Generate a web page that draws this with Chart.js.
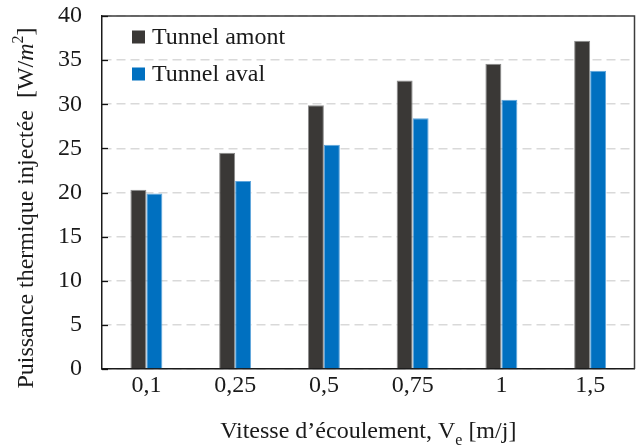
<!DOCTYPE html>
<html>
<head>
<meta charset="utf-8">
<script src="https://cdn.jsdelivr.net/npm/chart.js@4/dist/chart.umd.min.js"></script>
<style>
  html, body { margin: 0; padding: 0; background: #ffffff; }
  #wrap { width: 638px; height: 445px; }
</style>
</head>
<body>
<div id="wrap"><canvas id="c" width="638" height="445"></canvas></div>
<script>
// Flow velocity categories (m/day)
const categories = ['0,1', '0,25', '0,5', '0,75', '1', '1,5'];
// Injected thermal power (W/m²)
const tunnelAmont = [20.3, 24.5, 29.9, 32.7, 34.6, 37.2];
const tunnelAval = [19.9, 21.3, 25.4, 28.4, 30.5, 33.8];
const seriesNames = ['Tunnel amont', 'Tunnel aval'];
const yTicks = [0, 5, 10, 15, 20, 25, 30, 35, 40];

const SERIF = '"Liberation Serif", "Times New Roman", serif';
const TEXT = '#1a1a1a';
const FONT_SIZE = 24;

// Draws a run of text pieces; each piece may be italic, raised or lowered.
function drawRich(ctx, parts, x, y, size, align) {
  const fontFor = p => (p.italic ? 'italic ' : '') + Math.round(size * (p.scale || 1)) + 'px ' + SERIF;
  let total = 0;
  parts.forEach(p => { ctx.font = fontFor(p); total += ctx.measureText(p.t).width; });
  let cx = align === 'center' ? x - total / 2 : x;
  ctx.textBaseline = 'alphabetic';
  ctx.textAlign = 'left';
  parts.forEach(p => {
    ctx.font = fontFor(p);
    ctx.fillText(p.t, cx, y + (p.dy || 0) * size);
    cx += ctx.measureText(p.t).width;
  });
}

const decorations = {
  id: 'decorations',
  afterDraw(chart) {
    const { ctx, chartArea: a } = chart;
    const yScale = chart.scales.y;
    ctx.save();

    // frame on top and right
    ctx.strokeStyle = '#3c3c3c';
    ctx.lineWidth = 1.5;
    ctx.beginPath();
    ctx.moveTo(a.left, a.top);
    ctx.lineTo(a.right, a.top);
    ctx.lineTo(a.right, a.bottom);
    ctx.stroke();

    // inward tick marks on the value axis
    ctx.strokeStyle = '#111111';
    ctx.lineWidth = 1.3;
    yTicks.forEach(v => {
      const py = Math.round(yScale.getPixelForValue(v)) + 0.5;
      ctx.beginPath();
      ctx.moveTo(a.left, py);
      ctx.lineTo(a.left + 6, py);
      ctx.stroke();
    });

    // legend inside the plot
    chart.data.datasets.forEach((ds, i) => {
      const ly = 37 + i * 37;
      ctx.fillStyle = ds.backgroundColor;
      ctx.fillRect(132, ly - 6.5, 13, 13);
      ctx.fillStyle = TEXT;
      ctx.font = FONT_SIZE + 'px ' + SERIF;
      ctx.textAlign = 'left';
      ctx.textBaseline = 'middle';
      ctx.fillText(ds.label, 152, ly + 1);
    });

    // axis titles
    ctx.fillStyle = TEXT;
    drawRich(ctx, [
      { t: 'Vitesse d\u2019écoulement, V' },
      { t: 'e', scale: 0.68, dy: 0.28 },
      { t: ' [m/j]' }
    ], (a.left + a.right) / 2, 438, FONT_SIZE, 'center');

    ctx.translate(33, 208);
    ctx.rotate(-Math.PI / 2);
    drawRich(ctx, [
      { t: 'Puissance thermique injectée  [W/' },
      { t: 'm', italic: true },
      { t: '2', scale: 0.68, dy: -0.42 },
      { t: ']' }
    ], 0, 0, FONT_SIZE, 'center');

    ctx.restore();
  }
};

new Chart(document.getElementById('c'), {
  type: 'bar',
  data: {
    labels: categories,
    datasets: [
      {
        label: seriesNames[0],
        data: tunnelAmont,
        backgroundColor: '#3a3836',
        borderColor: '#8c8c8c',
        borderWidth: 1
      },
      {
        label: seriesNames[1],
        data: tunnelAval,
        backgroundColor: '#0070c0',
        borderColor: '#5fa6dc',
        borderWidth: 1
      }
    ]
  },
  options: {
    responsive: false,
    animation: false,
    devicePixelRatio: 1,
    layout: { padding: { left: 0, right: 3.5, top: 16, bottom: 0 } },
    datasets: { bar: { categoryPercentage: 0.36, barPercentage: 1.0 } },
    plugins: {
      legend: { display: false },
      tooltip: { enabled: false }
    },
    scales: {
      x: {
        afterFit(scale) { scale.height = 76; },
        grid: { display: false, drawTicks: false },
        border: { display: true, color: '#1a1a1a', width: 1.5 },
        ticks: { color: TEXT, font: { family: SERIF, size: FONT_SIZE }, padding: 2 }
      },
      y: {
        min: 0,
        max: 40,
        afterFit(scale) {
          scale.width = 102;
          scale.paddingTop = 0;
          scale.paddingBottom = 0;
        },
        afterBuildTicks(scale) { scale.ticks = yTicks.map(v => ({ value: v })); },
        grid: { color: '#d9d9d9', lineWidth: 1.6, drawTicks: false },
        border: { display: true, color: '#1a1a1a', width: 1.5, dash: [9, 5] },
        ticks: { color: TEXT, font: { family: SERIF, size: FONT_SIZE }, padding: 20 }
      }
    }
  },
  plugins: [decorations]
});
</script>
</body>
</html>
